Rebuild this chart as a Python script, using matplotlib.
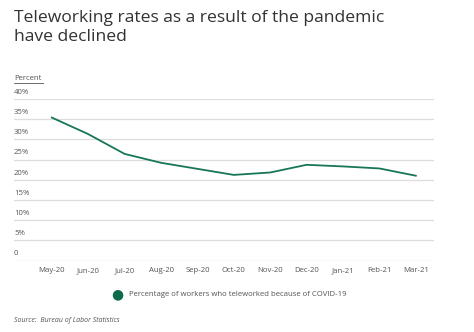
import matplotlib.pyplot as plt
import matplotlib.transforms as mtransforms

months = ['May-20', 'Jun-20', 'Jul-20', 'Aug-20', 'Sep-20', 'Oct-20',
          'Nov-20', 'Dec-20', 'Jan-21', 'Feb-21', 'Mar-21']
rates = [35.4, 31.3, 26.4, 24.2, 22.7, 21.2, 21.8, 23.7, 23.3, 22.8, 21.0]
yticks = [0, 5, 10, 15, 20, 25, 30, 35, 40]
ylabels = ['0', '5%', '10%', '15%', '20%', '25%', '30%', '35%', '40%']

plt.rcParams['font.family'] = ['Open Sans', 'DejaVu Sans']
green = '#17765a'
grey = '#555555'

fig = plt.figure(figsize=(4.74, 3.32), dpi=100)
ax = fig.add_axes([14/474, (332-260.5)/332, (434-14)/474, (260.5-99)/332])

x = range(len(months))
ax.plot(x, rates, color=green, lw=1.3, label='Percentage of workers who teleworked because of COVID-19')

ax.set_xlim(-1.04, 10.5)
ax.set_ylim(0, 40)
ax.set_yticks(yticks)
ax.yaxis.grid(True, color='#dddddd', lw=0.9)
ax.set_axisbelow(True)
ax.tick_params(axis='y', length=0, labelleft=False)
ax.set_xticks(list(x))
ax.set_xticklabels(months, fontsize=5.6, color=grey)
ax.tick_params(axis='x', length=0, pad=5)
for s in ax.spines.values():
    s.set_visible(False)

trans = mtransforms.blended_transform_factory(ax.transAxes, ax.transData)
for v, lab in zip(yticks, ylabels):
    ax.text(0, v + 0.8, lab, transform=trans, fontsize=5.6, color=grey, va='bottom', ha='left')

fig.text(14/474, 1 - 79/332, 'Percent', fontsize=5.6, color=grey, va='center', ha='left')
fig.add_artist(plt.Line2D([14/474, 43/474], [1 - 83/332, 1 - 83/332], color=grey, lw=0.6))

fig.text(14/474, 1 - 10/332, 'Teleworking rates as a result of the pandemic\nhave declined',
         fontsize=12.6, color='#333333', va='top', ha='left', linespacing=1.25)

fig.text(117/474, 1 - 295/332, '●', fontsize=10, color='#0d6a4d', va='center', ha='center')
fig.text(129/474, 1 - 295/332, 'Percentage of workers who teleworked because of COVID-19',
         fontsize=5.6, color=grey, va='center', ha='left')

fig.text(14/474, 1 - 320/332, 'Source:  Bureau of Labor Statistics', fontsize=5,
         style='italic', color=grey, va='center', ha='left')

fig.savefig('out.png', dpi=100)
